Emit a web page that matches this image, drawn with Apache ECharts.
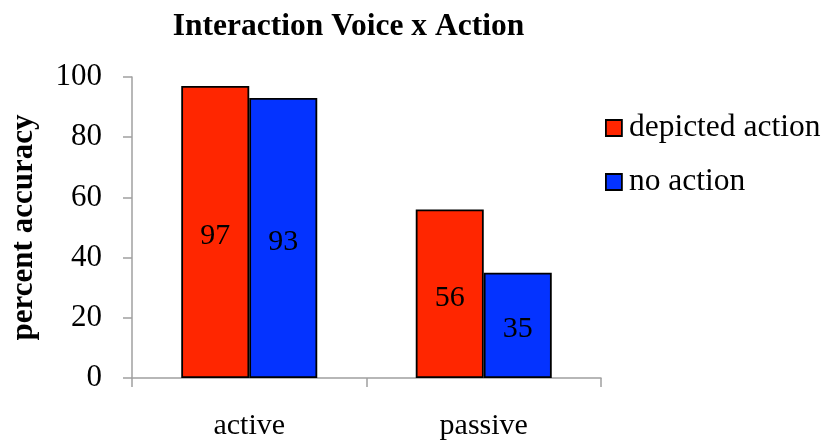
<!DOCTYPE html>
<html>
<head>
<meta charset="utf-8">
<script src="https://cdn.jsdelivr.net/npm/echarts@6/dist/echarts.min.js"></script>
<style>
  html, body { margin: 0; padding: 0; background: #fff; }
  #chart { width: 825px; height: 443px; }
</style>
</head>
<body>
<div id="chart"></div>
<script>
// Accuracy by sentence voice and picture condition
const categories = ['active', 'passive'];
const depictedAction = [97, 56];
const noAction = [93, 35];
const yTicks = { min: 0, max: 100, interval: 20 };

const serif = '"Liberation Serif", "DejaVu Serif", serif';
const axisGray = '#a0a0a0';

const chart = echarts.init(document.getElementById('chart'), null, { renderer: 'canvas' });

const labelStyle = {
  show: true,
  position: 'inside',
  color: '#000',
  fontFamily: serif,
  fontSize: 30,
  offset: [0, 4]
};

chart.setOption({
  animation: false,
  backgroundColor: '#fff',
  title: {
    text: 'Interaction Voice x Action',
    left: 343.5,
    top: 6,
    textAlign: 'center',
    textStyle: { fontFamily: serif, fontWeight: 'bold', fontSize: 31.5, color: '#000' }
  },
  legend: {
    orient: 'vertical',
    left: 600,
    top: 107,
    itemWidth: 16,
    itemHeight: 16,
    itemGap: 22,
    textStyle: { fontFamily: serif, fontSize: 31.5, lineHeight: 32, color: '#000', padding: [0, 0, 0, 2] },
    data: [
      { name: 'depicted action', icon: 'rect', itemStyle: { borderColor: '#000', borderWidth: 1.8 } },
      { name: 'no action', icon: 'rect', itemStyle: { borderColor: '#000', borderWidth: 1.8 } }
    ]
  },
  grid: { left: 131, right: 224, top: 77, bottom: 65 },
  xAxis: {
    type: 'category',
    data: categories,
    axisLine: { lineStyle: { color: axisGray, width: 1.5 } },
    axisTick: { show: true, length: 9, inside: false, lineStyle: { color: axisGray, width: 1.5 } },
    axisLabel: { fontFamily: serif, fontSize: 30, color: '#000', margin: 33 }
  },
  yAxis: {
    type: 'value',
    min: yTicks.min,
    max: yTicks.max,
    interval: yTicks.interval,
    name: 'percent accuracy',
    nameLocation: 'middle',
    nameGap: 93,
    nameRotate: 90,
    nameTextStyle: { fontFamily: serif, fontWeight: 'bold', fontSize: 31, color: '#000' },
    axisLine: { show: true, lineStyle: { color: axisGray, width: 1.5 } },
    axisTick: { show: true, length: 9, lineStyle: { color: axisGray, width: 1.5 } },
    splitLine: { show: false },
    axisLabel: { fontFamily: serif, fontSize: 31, color: '#000', margin: 30 }
  },
  series: [
    {
      name: 'depicted action',
      type: 'bar',
      data: depictedAction,
      barGap: '0%',
      barCategoryGap: '42%',
      itemStyle: { color: '#ff2600', borderColor: '#000', borderWidth: 1.8 },
      label: labelStyle
    },
    {
      name: 'no action',
      type: 'bar',
      data: noAction,
      barGap: '0%',
      barCategoryGap: '42%',
      itemStyle: { color: '#0433ff', borderColor: '#000', borderWidth: 1.8 },
      label: labelStyle
    }
  ]
});
</script>
</body>
</html>
